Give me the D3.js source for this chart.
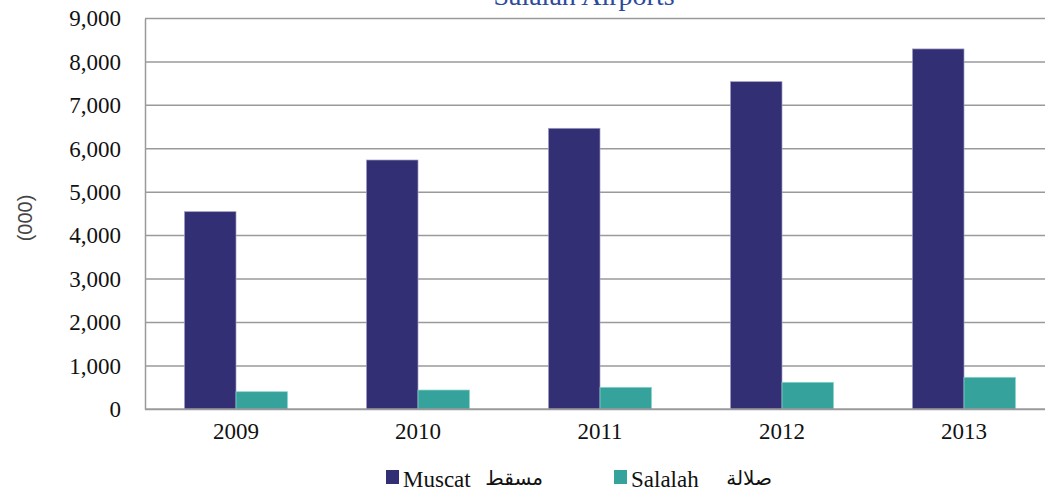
<!DOCTYPE html>
<html>
<head>
<meta charset="utf-8">
<script src="https://cdn.jsdelivr.net/npm/d3@7"></script>
<style>
  body { margin: 0; background: #fff; }
  svg { display: block; }
  .tick text { font-family: "Liberation Serif", "Times New Roman", serif; fill: #111; }
</style>
</head>
<body>
<svg id="chart" width="1045" height="493"></svg>
<script>
const years = ['2009', '2010', '2011', '2012', '2013'];
const muscat = [4551, 5741, 6471, 7545, 8299];
const salalah = [405, 444, 507, 622, 737];
const yTicks = [0, 1000, 2000, 3000, 4000, 5000, 6000, 7000, 8000, 9000];
const seriesNames = ['Muscat', 'Salalah'];
const seriesArabic = ['مسقط', 'صلالة'];
const colors = ['#322f74', '#35a29b'];

const svg = d3.select('#chart');
const serif = '"Liberation Serif", "Times New Roman", "DejaVu Sans", serif';

let x0 = d3.scaleBand().domain(years).range([145, 1055]);
let x1 = d3.scaleBand().domain(seriesNames).range([0, x0.bandwidth()]).paddingOuter(0.767);
let y = d3.scaleLinear().domain([0, 9000]).range([409.3, 18.5]);

// gridlines
svg.append('g')
  .selectAll('line')
  .data(yTicks.slice(1))
  .join('line')
  .attr('x1', 145).attr('x2', 1045)
  .attr('y1', d => y(d)).attr('y2', d => y(d))
  .attr('stroke', '#9a9a9c')
  .attr('stroke-width', 1.5);

// title, its top is cut off by the page edge as in the source
svg.append('text')
  .attr('x', 584).attr('y', 5)
  .attr('text-anchor', 'middle')
  .attr('font-family', serif)
  .attr('font-size', 28)
  .attr('fill', '#2b4a9c')
  .text('Salalah Airports');

// bars
const data = years.map((yr, i) => ({year: yr, values: [muscat[i], salalah[i]]}));
const groups = svg.append('g')
  .selectAll('g')
  .data(data)
  .join('g')
  .attr('transform', d => `translate(${x0(d.year)},0)`);

groups.selectAll('rect')
  .data(d => d.values.map((v, i) => ({key: seriesNames[i], value: v, i: i})))
  .join('rect')
  .attr('x', d => x1(d.key))
  .attr('width', x1.bandwidth())
  .attr('y', d => y(d.value))
  .attr('height', d => y(0) - y(d.value))
  .attr('fill', d => colors[d.i])
  .attr('stroke', d => d.i === 0 ? '#9d9bc0' : '#8fd3cc')
  .attr('stroke-width', 0.7);

// y axis
let aY = d3.axisLeft(y).tickValues(yTicks).tickSize(0).tickPadding(24)
  .tickFormat(d3.format(','));
const gy = svg.append('g')
  .attr('transform', 'translate(145,0)')
  .call(aY);
gy.select('.domain').attr('stroke', '#9a9a9c').attr('stroke-width', 1.5);
gy.selectAll('.tick text').attr('font-size', 23);

// x axis
let aX = d3.axisBottom(x0).tickSize(0).tickPadding(13);
const gx = svg.append('g')
  .attr('transform', `translate(0,${y(0)})`)
  .call(aX);
gx.select('.domain').remove();
gx.selectAll('.tick text').attr('font-size', 23);
svg.append('line')
  .attr('x1', 145).attr('x2', 1045)
  .attr('y1', y(0)).attr('y2', y(0))
  .attr('stroke', '#9a9a9c').attr('stroke-width', 2);

// y label
svg.append('text')
  .attr('transform', 'translate(32,218) rotate(-90)')
  .attr('text-anchor', 'middle')
  .attr('font-family', 'Arial, "Liberation Sans", sans-serif')
  .attr('font-size', 20)
  .attr('fill', '#444')
  .text('(000)');

// legend
const legendX = [386, 614];
const arabicX = [543, 772];
seriesNames.forEach((name, i) => {
  svg.append('rect')
    .attr('x', legendX[i]).attr('y', 470)
    .attr('width', 13).attr('height', 14)
    .attr('fill', colors[i]);
  svg.append('text')
    .attr('x', legendX[i] + 17).attr('y', 487)
    .attr('font-family', serif)
    .attr('font-size', 23)
    .attr('fill', '#111')
    .text(name);
  svg.append('text')
    .attr('x', arabicX[i]).attr('y', 485)
    .attr('text-anchor', 'end')
    .attr('font-family', '"DejaVu Sans", sans-serif')
    .attr('font-size', 20)
    .attr('fill', '#111')
    .text(seriesArabic[i]);
});
</script>
</body>
</html>
